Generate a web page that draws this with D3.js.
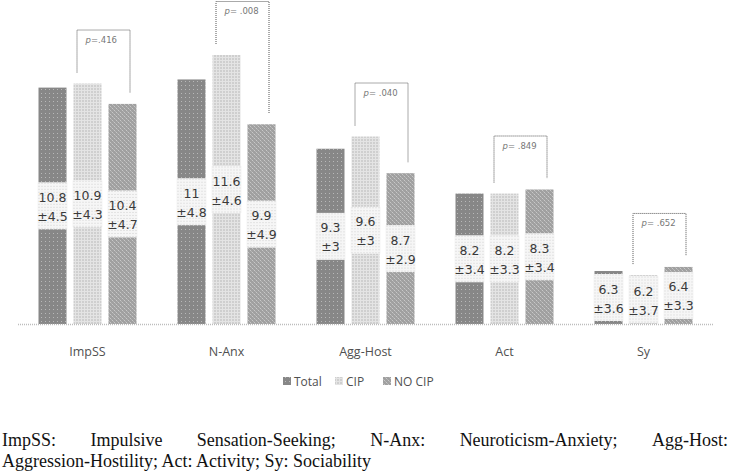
<!DOCTYPE html>
<html><head><meta charset="utf-8">
<script src="https://cdn.jsdelivr.net/npm/d3@7"></script>
<style>body{margin:0;background:#fff}svg{display:block}</style>
</head><body>
<svg id="c" width="730" height="474"></svg>
<script>
const categories = ["ImpSS","N-Anx","Agg-Host","Act","Sy"];
const seriesNames = ["Total","CIP","NO CIP"];
const totalMean = [10.8, 11, 9.3, 8.2, 6.3];
const totalSD   = [4.5, 4.8, 3, 3.4, 3.6];
const cipMean   = [10.9, 11.6, 9.6, 8.2, 6.2];
const cipSD     = [4.3, 4.6, 3, 3.3, 3.7];
const nocipMean = [10.4, 9.9, 8.7, 8.3, 6.4];
const nocipSD   = [4.7, 4.9, 2.9, 3.4, 3.3];
const pValues   = ["=.416", "= .008", "= .040", "= .849", "= .652"];
const captionLines = [
  "ImpSS: Impulsive Sensation-Seeking; N-Anx: Neuroticism-Anxiety; Agg-Host:",
  "Aggression-Hostility; Act: Activity; Sy: Sociability"
];

const svg = d3.select("#c");
const defs = svg.append("defs");
function pat(id, size, bg, draw){
  const p = defs.append("pattern").attr("id", id).attr("patternUnits","userSpaceOnUse")
    .attr("width", size).attr("height", size);
  p.append("rect").attr("width", size).attr("height", size).attr("fill", bg);
  draw(p);
}
pat("pTotal", 4, "#878787", p => p.append("rect").attr("x",1).attr("y",1).attr("width",1).attr("height",1).attr("fill","#b8b8b8"));
pat("pCIP", 3, "#cfcfcf", p => { p.append("rect").attr("x",0).attr("y",0).attr("width",3).attr("height",1).attr("fill","#e4e4e4"); p.append("rect").attr("x",0).attr("y",0).attr("width",1).attr("height",3).attr("fill","#e4e4e4"); });
pat("pNO", 4, "#a0a0a0", p => { p.append("rect").attr("x",0).attr("y",0).attr("width",1).attr("height",1).attr("fill","#c8c8c8"); p.append("rect").attr("x",2).attr("y",2).attr("width",1).attr("height",1).attr("fill","#c8c8c8"); p.append("rect").attr("x",1).attr("y",1).attr("width",1).attr("height",1).attr("fill","#b4b4b4");p.append("rect").attr("x",3).attr("y",3).attr("width",1).attr("height",1).attr("fill","#b4b4b4");});
pat("pLab", 3, "#f6f6f6", p => p.append("rect").attr("x",1).attr("y",1).attr("width",1).attr("height",1).attr("fill","#cfcfcf"));

const fills = ["url(#pTotal)","url(#pCIP)","url(#pNO)"];
const means = [totalMean, cipMean, nocipMean];
const sds = [totalSD, cipSD, nocipSD];

const baseY = 324;
const x0 = d3.scaleBand().domain(categories).range([18, 713]).paddingInner(0).paddingOuter(0);
const x1 = d3.scaleBand().domain(seriesNames).range([20.5, x0.bandwidth()-20.5]).paddingInner(0.2).paddingOuter(0);
const y = d3.scaleLinear().domain([5, 11.6]).range([baseY, 55]);

const data = [];
categories.forEach((c,i) => seriesNames.forEach((s,j) => data.push({c, s, j, i, v: means[j][i], sd: sds[j][i]})));

const g = svg.append("g");
g.selectAll("rect.bar").data(data).join("rect").attr("class","bar")
  .attr("x", d => x0(d.c) + x1(d.s)).attr("width", x1.bandwidth())
  .attr("y", d => y(d.v)).attr("height", d => baseY - y(d.v))
  .attr("fill", d => fills[d.j]);

// axis line
svg.append("line").attr("x1",18).attr("x2",713).attr("y1",baseY+0.5).attr("y2",baseY+0.5)
  .attr("stroke","#bdbdbd").attr("stroke-width",1.5).attr("stroke-dasharray","1,1");

// value labels
const lab = g.selectAll("g.lab").data(data).join("g").attr("class","lab")
  .attr("transform", d => `translate(${x0(d.c)+x1(d.s)+x1.bandwidth()/2},${(y(d.v)+baseY)/2})`);
lab.append("rect").attr("x", -x1.bandwidth()/2 - 1).attr("width", x1.bandwidth()+2)
  .attr("y",-23.5).attr("height",47).attr("fill","url(#pLab)");
lab.append("text").attr("text-anchor","middle").attr("y",-4)
  .attr("font-family","DejaVu Sans, Verdana, sans-serif").attr("font-size",12.5).attr("fill","#3a3a3a")
  .text(d => d.v);
lab.append("text").attr("text-anchor","middle").attr("y",15)
  .attr("font-family","DejaVu Sans, Verdana, sans-serif").attr("font-size",12.5).attr("fill","#3a3a3a")
  .text(d => "±" + d.sd);

// brackets
categories.forEach((c,i) => {
  const xl = x0(c) + x1("CIP") + 3;
  const xr = x0(c) + x1("NO CIP") + 21;
  const yc = y(cipMean[i]), yn = y(nocipMean[i]);
  const top = Math.min(yc, yn) - 54;
  const bg = svg.append("g").attr("fill","none").attr("stroke","#555").attr("stroke-width",1).attr("stroke-dasharray","1,1");
  bg.append("path").attr("d", `M${xl+0.5},${yc-11}V${top+0.5}H${xr+0.5}V${yn-11}`);
  const t = svg.append("text").attr("x", xl + 9).attr("y", top + 13)
    .attr("font-family","DejaVu Sans, Verdana, sans-serif").attr("font-size",8.5).attr("fill","#777");
  t.append("tspan").attr("font-style","italic").text("p");
  t.append("tspan").text(pValues[i]);
});

// category labels
svg.selectAll("text.cat").data(categories).join("text").attr("class","cat")
  .attr("x", d => x0(d) + x0.bandwidth()/2).attr("y", 356).attr("text-anchor","middle")
  .attr("font-family","Open Sans, Liberation Sans, sans-serif").attr("font-size",12.5).attr("fill","#505050")
  .text(d => d);

// legend
const legX = [283, 335, 383];
seriesNames.forEach((s,j) => {
  svg.append("rect").attr("x", legX[j]).attr("y", 377).attr("width",8).attr("height",8).attr("fill", fills[j]);
  svg.append("text").attr("x", legX[j]+11).attr("y", 386)
    .attr("font-family","Open Sans, Liberation Sans, sans-serif").attr("font-size",12).attr("fill","#505050").text(s);
});

// caption (first line justified)
const capFont = "'Liberation Serif', 'Times New Roman', serif";
const capSize = 18;
function drawLine(str, yy, justify){
  if (!justify) {
    svg.append("text").attr("x", 2).attr("y", yy).attr("font-family",capFont).attr("font-size",capSize).attr("fill","#111").text(str);
    return;
  }
  const words = str.split(" ");
  const ts = words.map(w => svg.append("text").attr("y", yy).attr("font-family",capFont).attr("font-size",capSize).attr("fill","#111").text(w));
  const widths = ts.map(t => t.node().getComputedTextLength());
  const total = d3.sum(widths);
  const left = 2, right = 728;
  const gap = (right-left-total)/(words.length-1);
  let xx = left;
  ts.forEach((t,k) => { t.attr("x", xx); xx += widths[k] + gap; });
}
drawLine(captionLines[0], 446, true);
drawLine(captionLines[1], 467, false);
</script>
</body></html>
